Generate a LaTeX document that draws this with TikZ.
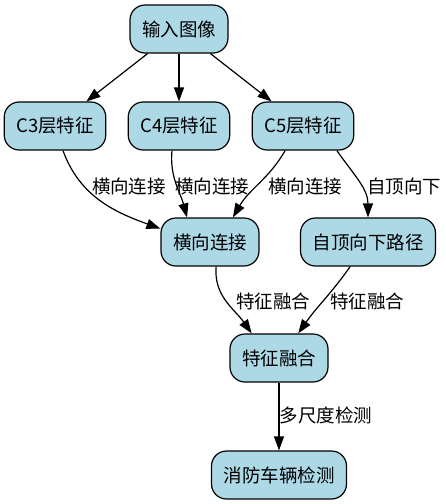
\documentclass[tikz,border=0pt]{standalone}
\usepackage{fontspec}
\setmainfont{Noto Sans CJK SC}
\usetikzlibrary{arrows.meta}
\definecolor{boxblue}{HTML}{ADD8E6}

\begin{document}
\begin{tikzpicture}[x=1pt,y=1pt,
  stage/.style={draw, line width=1.2pt, fill=boxblue, rounded corners=15pt,
    minimum height=48pt, inner xsep=12pt, font=\fontsize{18.5}{20}\selectfont},
  elabel/.style={inner sep=0pt, font=\fontsize{18.5}{20}\selectfont},
  flow/.style={-{Triangle[length=14pt,width=10pt]}, line width=1.2pt}]
\useasboundingbox (0,0) rectangle (446,-504);

% boxes
\node [stage] (img) at (179,-29) {输入图像};
\node [stage] (c3) at (55,-126) {C3层特征};
\node [stage] (c4) at (179,-126) {C4层特征};
\node [stage] (c5) at (303,-126) {C5层特征};
\node [stage] (lat) at (210,-242) {横向连接};
\node [stage] (td) at (368,-242) {自顶向下路径};
\node [stage] (fuse) at (279,-358) {特征融合};
\node [stage] (det) at (279,-475) {消防车辆检测};

% edges
\draw [flow] (img) -- (c3);
\draw [flow] (img) -- (c4);
\draw [flow] (img) -- (c5);
\draw [flow] (c3.-72) to[out=-70,in=160] (lat.165);
\draw [flow] (c4.-106) to[out=-95,in=105] (lat.133);
\draw [flow] (c5.-126) to[out=-120,in=60] (lat.47);
\draw [flow] (c5.-36) to[out=-55,in=90] (td.north);
\draw [flow] (lat.-76) to[out=-95,in=125] (fuse.138);
\draw [flow] (td.-126) to[out=-125,in=55] (fuse.52);
\draw [flow] (fuse) -- (det);

% edge labels
\node [elabel] (l1) at (129,-186) {横向连接};
\node [elabel] (l2) at (212,-186) {横向连接};
\node [elabel] (l3) at (305,-186) {横向连接};
\node [elabel] (l4) at (404,-186) {自顶向下};
\node [elabel] (l5) at (273,-301) {特征融合};
\node [elabel] (l6) at (367,-301) {特征融合};
\node [elabel] (l7) at (326,-415) {多尺度检测};
\end{tikzpicture}
\end{document}
